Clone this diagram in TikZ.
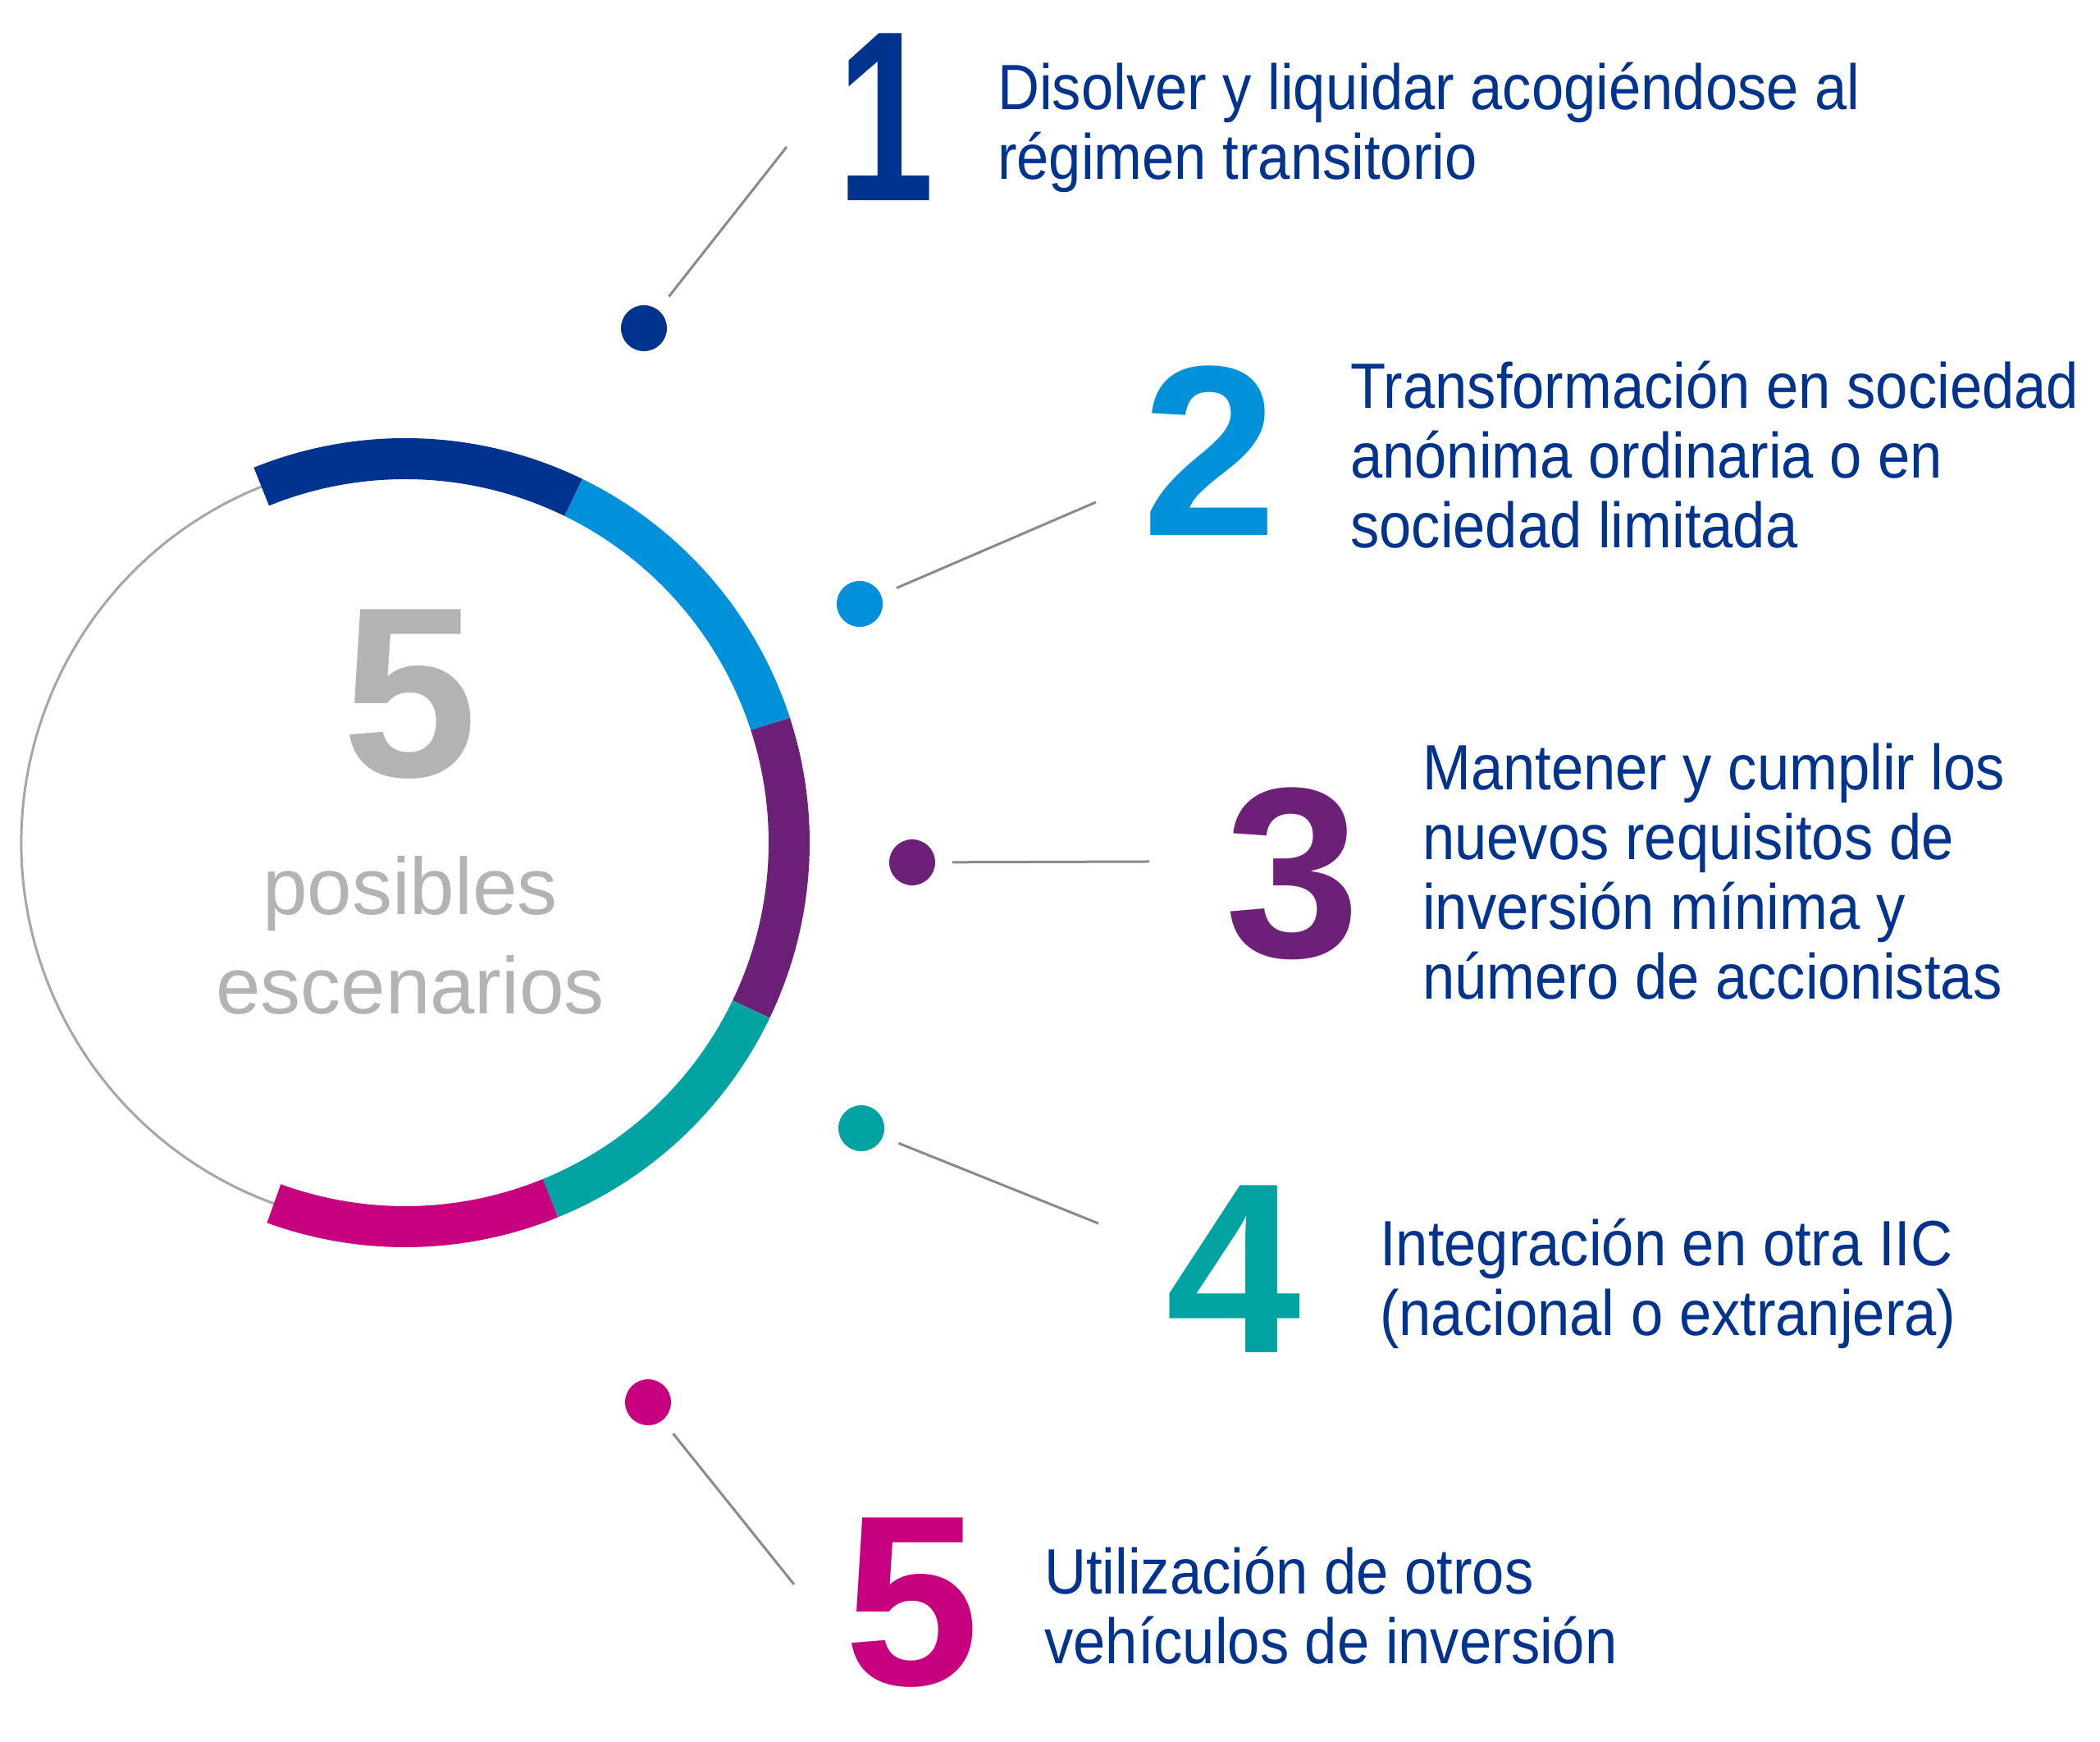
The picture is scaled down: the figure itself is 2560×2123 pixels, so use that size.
\documentclass[tikz,border=0pt]{standalone}
\usepackage{fontspec}
\setmainfont{Liberation Sans}
\newfontfamily\condfont{Liberation Sans}[FakeStretch=0.905]
\definecolor{kdark}{HTML}{00338D}
\definecolor{klight}{HTML}{0091DA}
\definecolor{kpurple}{HTML}{6D2077}
\definecolor{kteal}{HTML}{00A3A1}
\definecolor{kmagenta}{HTML}{C6007E}
\definecolor{greytext}{HTML}{B3B3B3}
\definecolor{ringgrey}{HTML}{A6A6A6}
\definecolor{linegrey}{HTML}{8A8A8A}
\tikzset{
  seg/.style={line width=50pt},
  dot/.style={circle, minimum size=56pt, inner sep=0pt, outer sep=21pt, fill=#1},
  conn/.style={line width=3pt, draw=linegrey},
  num/.style={font=\fontsize{296}{296}\selectfont\bfseries, text=#1, inner sep=0pt, anchor=base},
  txt/.style={font=\condfont\fontsize{78}{85}\selectfont, text=kdark, inner sep=0pt, anchor=base west},
  centre/.style={font=\fontsize{98}{121}\selectfont, text=greytext, inner sep=0pt, anchor=base}
}
\newcommand{\mylines}[1]{\begin{tabular}[t]{@{}l@{}}#1\end{tabular}}
\begin{document}
\begin{tikzpicture}[x=1pt,y=1pt]
\useasboundingbox (0,0) rectangle (2560,2123);
\fill[white] (0,0) rectangle (2560,2123);
\coordinate (c) at (494,1096);
% ring
\draw[line width=3pt, ringgrey] (c) ++(112:468) arc[start angle=112, end angle=250, radius=468];
\draw[seg, kdark]    (c) ++(112:468) arc[start angle=112, end angle=64, radius=468];
\draw[seg, klight]   (c) ++(64:468)  arc[start angle=64, end angle=18, radius=468];
\draw[seg, kpurple]  (c) ++(18:468)  arc[start angle=18, end angle=-25.7, radius=468];
\draw[seg, kteal]    (c) ++(-25.7:468) arc[start angle=-25.7, end angle=-67.8, radius=468];
\draw[seg, kmagenta] (c) ++(-67.8:468) arc[start angle=-67.8, end angle=-110, radius=468];
% centre text
\node[centre, font=\fontsize{296}{296}\selectfont\bfseries] (big5) at (500,1176) {5};
\node[centre] (pos) at (500,1008) {posibles};
\node[centre] (esc) at (500,887) {escenarios};
% dots
\node[dot=kdark]    (d1) at (785,1723) {};
\node[dot=klight]   (d2) at (1048,1387) {};
\node[dot=kpurple]  (d3) at (1112,1072) {};
\node[dot=kteal]    (d4) at (1050,748) {};
\node[dot=kmagenta] (d5) at (790,414) {};
\coordinate (e1) at (959,1944);
\coordinate (e2) at (1336,1511);
\coordinate (e3) at (1401,1073);
\coordinate (e4) at (1339,632);
\coordinate (e5) at (968,192);
\draw[conn] (d1) -- (e1);
\draw[conn] (d2) -- (e2);
\draw[conn] (d3) -- (e3);
\draw[conn] (d4) -- (e4);
\draw[conn] (d5) -- (e5);
% numbers
\node[num=kdark]    (n1) at (1080,1878) {\scalebox{0.72}[1]{1}};
\node[num=klight]   (n2) at (1475,1470) {2};
\node[num=kpurple]  (n3) at (1576,956) {3};
\node[num=kteal]    (n4) at (1504,474) {4};
\node[num=kmagenta] (n5) at (1112,69) {5};
% texts
\node[txt] (t1) at (1216,1989) {\mylines{Disolver y liquidar acogiéndose al\\régimen transitorio}};
\node[txt] (t2) at (1646,1625) {\mylines{Transformación en sociedad\\anónima ordinaria o en\\sociedad limitada}};
\node[txt] (t3) at (1734,1160) {\mylines{Mantener y cumplir los\\nuevos requisitos de\\inversión mínima y\\número de accionistas}};
\node[txt] (t4) at (1682,580) {\mylines{Integración en otra IIC\\(nacional o extranjera)}};
\node[txt] (t5) at (1273,180) {\mylines{Utilización de otros\\vehículos de inversión}};
\end{tikzpicture}
\end{document}
